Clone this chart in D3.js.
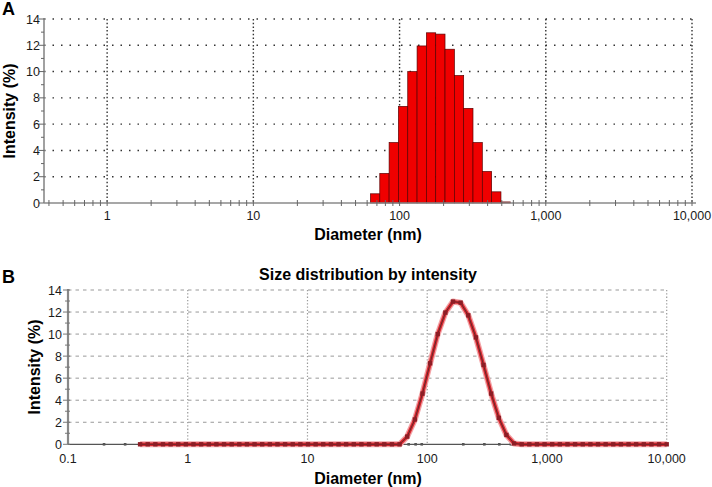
<!DOCTYPE html>
<html>
<head>
<meta charset="utf-8">
<script src="https://d3js.org/d3.v7.min.js"></script>
<style>
  body { margin: 0; background: #fff; }
  svg { display: block; font-family: "Liberation Sans", Arial, sans-serif; }
</style>
</head>
<body>
<svg id="chart" width="712" height="487"></svg>
<script>
// Zetasizer size classes (nm)
const sizes = [0.4, 0.4632, 0.5365, 0.6213, 0.7195, 0.8332, 0.9649, 1.117, 1.294, 1.499,
  1.736, 2.010, 2.328, 2.696, 3.122, 3.615, 4.187, 4.849, 5.615, 6.503,
  7.531, 8.721, 10.10, 11.70, 13.54, 15.69, 18.17, 21.04, 24.36, 28.21,
  32.67, 37.84, 43.82, 50.75, 58.77, 68.06, 78.82, 91.28, 105.7, 122.4,
  141.8, 164.2, 190.1, 220.2, 255.0, 295.3, 342.0, 396.1, 458.7, 531.2,
  615.1, 712.4, 825.0, 955.4, 1106, 1281, 1484, 1718, 1990, 2305,
  2669, 3091, 3580, 4145, 4801, 5560, 6439, 7456, 8635, 10000];
// intensity (%) for each size class
const intensity = [0, 0, 0, 0, 0, 0, 0, 0, 0, 0,
  0, 0, 0, 0, 0, 0, 0, 0, 0, 0,
  0, 0, 0, 0, 0, 0, 0, 0, 0, 0,
  0, 0, 0, 0, 0, 0.7, 2.25, 4.6, 7.35, 10.0,
  11.95, 12.95, 12.85, 11.7, 9.7, 7.2, 4.6, 2.4, 0.85, 0.08,
  0, 0, 0, 0, 0, 0, 0, 0, 0, 0,
  0, 0, 0, 0, 0, 0, 0, 0, 0, 0];
const yTicks = [0, 2, 4, 6, 8, 10, 12, 14];
const decadesA = [1, 10, 100, 1000, 10000];
const decadesB = [0.1, 1, 10, 100, 1000, 10000];
const titleB = "Size distribution by intensity";
const xTitle = "Diameter (nm)";
const yTitle = "Intensity (%)";

const svg = d3.select("#chart");
const data = sizes.map((s, i) => ({size: s, value: intensity[i]}));
const fmt = d => d < 1 ? String(d) : d3.format(",")(d);

function minorTicks(lo, hi) {
  let out = [];
  for (let p = Math.floor(Math.log10(lo)); p < Math.ceil(Math.log10(hi)); p++) {
    for (let m = 2; m <= 9; m++) {
      let v = m * Math.pow(10, p);
      if (v > lo && v < hi) out.push(v);
    }
  }
  return out;
}

// ---------- Panel A : histogram ----------
(function() {
  const x = d3.scaleLog().domain([0.37, 10000]).range([44, 692]);
  const y = d3.scaleLinear().domain([0, 14]).range([203, 19]);
  const g = svg.append("g");

  g.append("text").attr("x", 2).attr("y", 15).attr("font-size", 18)
    .attr("font-weight", "bold").text("A");

  // grid
  g.selectAll(".hg").data(yTicks.filter(d => d > 0)).enter().append("line")
    .attr("x1", 44).attr("x2", 692).attr("y1", d => y(d)).attr("y2", d => y(d))
    .attr("stroke", "#333").attr("stroke-width", 1.4).attr("stroke-dasharray", "1.5,7");
  g.selectAll(".vg").data(decadesA).enter().append("line")
    .attr("x1", d => x(d)).attr("x2", d => x(d)).attr("y1", y(14)).attr("y2", y(0))
    .attr("stroke", "#333").attr("stroke-width", 1.4).attr("stroke-dasharray", "1.5,2.2");

  // bars
  const half = Math.sqrt(sizes[1] / sizes[0]);
  const bars = data.filter(d => d.value > 0);
  g.selectAll("rect").data(bars).enter().append("rect")
    .attr("x", d => x(d.size / half))
    .attr("width", d => x(d.size * half) - x(d.size / half))
    .attr("y", d => y(d.value)).attr("height", d => y(0) - y(d.value))
    .attr("fill", "#f00000").attr("stroke", "#5a0000").attr("stroke-width", 0.7);

  // axes
  g.append("line").attr("x1", 44).attr("x2", 696).attr("y1", 203).attr("y2", 203)
    .attr("stroke", "#8a8a8a").attr("stroke-width", 1.6);
  g.append("line").attr("x1", 44).attr("x2", 44).attr("y1", 18).attr("y2", 203)
    .attr("stroke", "#8a8a8a").attr("stroke-width", 1.6);
  g.selectAll(".xt").data(decadesA.concat(minorTicks(0.37, 10000))).enter().append("line")
    .attr("x1", d => x(d)).attr("x2", d => x(d)).attr("y1", 200).attr("y2", 206)
    .attr("stroke", "#666").attr("stroke-width", 1);
  g.selectAll(".yt").data(d3.range(0, 15)).enter().append("line")
    .attr("x1", d => d % 2 ? 41 : 39).attr("x2", 44).attr("y1", d => y(d)).attr("y2", d => y(d))
    .attr("stroke", "#666").attr("stroke-width", 1);

  g.selectAll(".yl").data(yTicks).enter().append("text")
    .attr("x", 40).attr("y", d => y(d)).attr("dy", "0.36em").attr("text-anchor", "end")
    .attr("font-size", 12.5).attr("fill", "#1a1a1a").text(d => d);
  g.selectAll(".xl").data(decadesA).enter().append("text")
    .attr("x", d => x(d)).attr("y", 220).attr("text-anchor", "middle")
    .attr("font-size", 12.5).attr("fill", "#1a1a1a").text(fmt);

  g.append("text").attr("x", 368).attr("y", 240).attr("text-anchor", "middle")
    .attr("font-size", 16).attr("font-weight", "bold").text(xTitle);
  g.append("text").attr("transform", "translate(15,111) rotate(-90)").attr("text-anchor", "middle")
    .attr("font-size", 16).attr("font-weight", "bold").text(yTitle);
})();

// ---------- Panel B : line ----------
(function() {
  const x = d3.scaleLog().domain([0.1, 10000]).range([68, 666.7]);
  const y = d3.scaleLinear().domain([0, 14]).range([444.3, 290]);
  const g = svg.append("g");

  g.append("text").attr("x", 2).attr("y", 283).attr("font-size", 18)
    .attr("font-weight", "bold").text("B");
  g.append("text").attr("x", 368).attr("y", 280).attr("text-anchor", "middle")
    .attr("font-size", 16).attr("font-weight", "bold").text(titleB);

  g.selectAll(".hg").data(yTicks.filter(d => d > 0)).enter().append("line")
    .attr("x1", 68).attr("x2", 666.7).attr("y1", d => y(d)).attr("y2", d => y(d))
    .attr("stroke", "#999").attr("stroke-width", 1).attr("stroke-dasharray", "3.5,4");
  g.selectAll(".vg").data(decadesB.slice(1)).enter().append("line")
    .attr("x1", d => x(d)).attr("x2", d => x(d)).attr("y1", y(14)).attr("y2", y(0))
    .attr("stroke", "#999").attr("stroke-width", 1.2).attr("stroke-dasharray", "1.3,2");

  // axes
  g.append("line").attr("x1", 68).attr("x2", 668).attr("y1", y(0)).attr("y2", y(0))
    .attr("stroke", "#555").attr("stroke-width", 1.3);
  g.append("line").attr("x1", 68).attr("x2", 68).attr("y1", 289).attr("y2", y(0))
    .attr("stroke", "#888").attr("stroke-width", 2.2);
  g.selectAll(".xd").data(minorTicks(0.1, 10000)).enter().append("rect")
    .attr("x", d => x(d) - 1.3).attr("y", y(0) - 1.3).attr("width", 2.6).attr("height", 2.6)
    .attr("fill", "#555");
  g.selectAll(".yt").data(d3.range(0, 15)).enter().append("line")
    .attr("x1", d => d % 2 ? 65 : 63).attr("x2", 70).attr("y1", d => y(d)).attr("y2", d => y(d))
    .attr("stroke", "#777").attr("stroke-width", 1);

  // series
  const line = d3.line().x(d => x(d.size)).y(d => y(d.value));
  g.append("path").datum(data).attr("d", line).attr("fill", "none")
    .attr("stroke", "#f3a3a6").attr("stroke-width", 6).attr("stroke-linejoin", "round");
  g.append("path").datum(data).attr("d", line).attr("fill", "none")
    .attr("stroke", "#d8262e").attr("stroke-width", 3.4).attr("stroke-linejoin", "round");
  g.append("path").datum(data).attr("d", line).attr("fill", "none")
    .attr("stroke", "#5e2a2c").attr("stroke-width", 1).attr("stroke-linejoin", "round");
  g.selectAll(".mk").data(data).enter().append("rect")
    .attr("x", d => x(d.size) - 2.2).attr("y", d => y(d.value) - 2.2)
    .attr("width", 4.4).attr("height", 4.4).attr("fill", "#8e1d25");

  g.selectAll(".yl").data(yTicks).enter().append("text")
    .attr("x", 62).attr("y", d => y(d)).attr("dy", "0.36em").attr("text-anchor", "end")
    .attr("font-size", 12.5).attr("fill", "#1a1a1a").text(d => d);
  g.selectAll(".xl").data(decadesB).enter().append("text")
    .attr("x", d => x(d)).attr("y", 462.5).attr("text-anchor", "middle")
    .attr("font-size", 12.5).attr("fill", "#1a1a1a").text(fmt);

  g.append("text").attr("x", 368).attr("y", 484).attr("text-anchor", "middle")
    .attr("font-size", 16).attr("font-weight", "bold").text(xTitle);
  g.append("text").attr("transform", "translate(40,367) rotate(-90)").attr("text-anchor", "middle")
    .attr("font-size", 16).attr("font-weight", "bold").text(yTitle);
})();
</script>
</body>
</html>
